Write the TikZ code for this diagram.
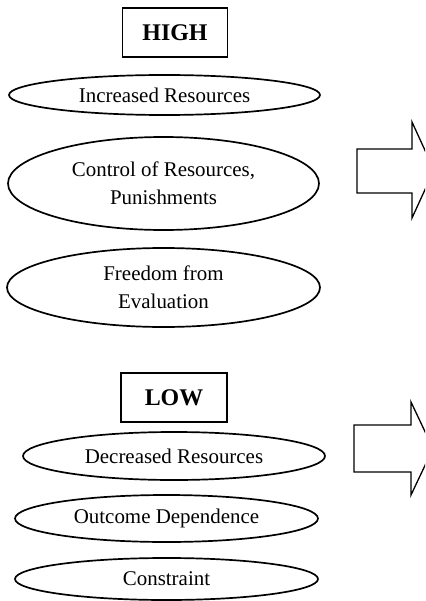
\documentclass[tikz,border=0pt]{standalone}
\usepackage{fontspec}
\setmainfont{Liberation Serif}
\usetikzlibrary{shapes.geometric}

\tikzset{
	levelbox/.style={draw, line width=1.3pt, inner sep=0pt, minimum width=105bp, minimum height=49bp, font=\fontsize{24}{28}\selectfont\bfseries},
	factor/.style={draw, ellipse, line width=1.7pt, inner sep=0pt, align=center, font=\fontsize{21}{28}\selectfont},
	blockarrow/.style={draw, line width=1.3pt, line join=miter}
}

\begin{document}
\begin{tikzpicture}[x=1bp,y=-1bp]
		\clip (0,0) rectangle (425,601);
		\fill[white] (0,0) rectangle (425,601);
        % high group
		\node[levelbox] (high) at (175,32.5) {HIGH};
		\node[factor, minimum width=311bp, minimum height=40bp] (incr) at (164.5,95) {Increased Resources};
		\node[factor, minimum width=311bp, minimum height=93bp] (ctrl) at (163.5,183.5) {Control of Resources,\\Punishments};
		\node[factor, minimum width=313bp, minimum height=79bp] (free) at (163.5,287.5) {Freedom from\\Evaluation};
        % low group
		\node[levelbox, minimum width=106bp] (low) at (174,397.5) {LOW};
		\node[factor, minimum width=302bp, minimum height=48bp] (decr) at (174,456) {Decreased Resources};
		\node[factor, minimum width=303bp, minimum height=47bp] (outc) at (166.5,518.5) {Outcome Dependence};
		\node[factor, minimum width=303bp, minimum height=42bp] (cons) at (166.5,579) {Constraint};
        % arrows
		\draw[blockarrow] (357,149) -- (412,149) -- (412,122) -- (434,170) -- (412,218) -- (412,193) -- (357,193) -- cycle;
		\draw[blockarrow] (354,425) -- (411,425) -- (411,402) -- (433,448.5) -- (411,495) -- (411,472) -- (354,472) -- cycle;
	\end{tikzpicture}
\end{document}
